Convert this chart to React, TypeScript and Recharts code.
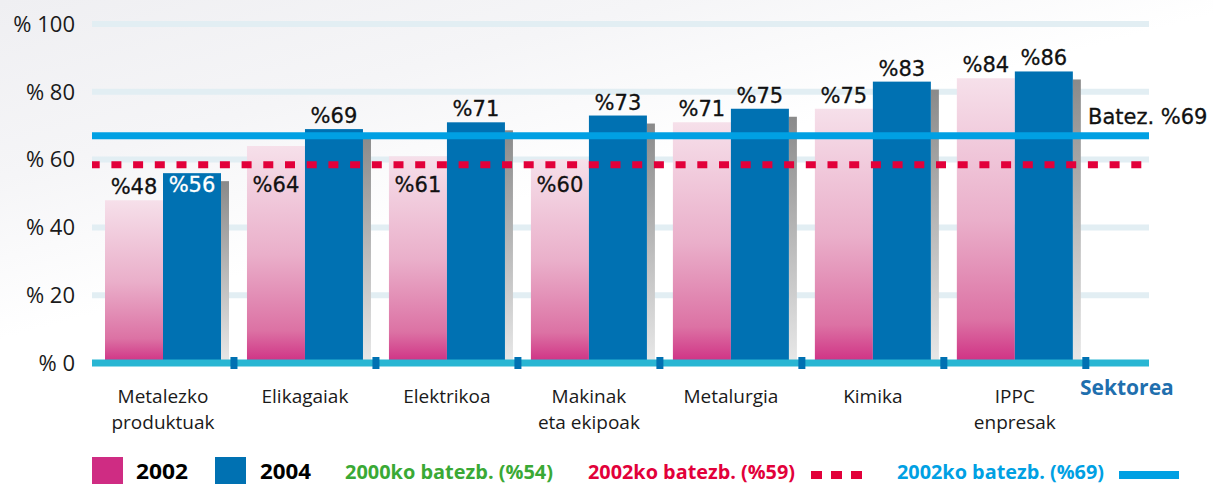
import {
  BarChart, Bar, XAxis, YAxis, CartesianGrid, ReferenceLine, LabelList, Label,
} from 'recharts'

// ─── Data ─────────────────────────────────────────────────────────────────────

const CATEGORIES = [
  ['Metalezko', 'produktuak'],
  ['Elikagaiak'],
  ['Elektrikoa'],
  ['Makinak', 'eta ekipoak'],
  ['Metalurgia'],
  ['Kimika'],
  ['IPPC', 'enpresak'],
]
const SERIES_2002 = [48, 64, 61, 60, 71, 75, 84]
const SERIES_2004 = [56, 69, 71, 73, 75, 83, 86]
const Y_TICKS = [0, 20, 40, 60, 80, 100]

// average lines, as drawn
const AVG_2002 = 58.5
const AVG_2004 = 67
const AVG_LABEL = 'Batez. %69'
const AXIS_TITLE = 'Sektorea'

const LEGEND_SERIES = ['2002', '2004']
const LEGEND_NOTES = ['2000ko batezb. (%54)', '2002ko batezb. (%59)', '2002ko batezb. (%69)']

// ─── Colours ──────────────────────────────────────────────────────────────────

const MAGENTA = '#cf2c83'
const BLUE = '#0071b2'
const LINE_BLUE = '#00a0e3'
const RED = '#e2003a'
const GREEN = '#3aa935'
const AXIS_CYAN = '#29b6d3'
const GRID = '#e2eef3'

const data = CATEGORIES.map((c, i) => ({
  pos: i + 0.5,
  v2002: SERIES_2002[i],
  v2004: SERIES_2004[i],
}))

// label ticks at category centres, small markers on category boundaries
const X_TICKS = CATEGORIES.flatMap((_, i) => [i + 0.5, i + 1])

// ─── Pieces ───────────────────────────────────────────────────────────────────

function CategoryTick({ x, y, payload }: any) {
  const v = payload.value as number
  if (Number.isInteger(v)) {
    return <rect x={x - 3.5} y={y - 6} width={7} height={12} fill={BLUE} />
  }
  const lines = CATEGORIES[Math.floor(v)]
  return (
    <g>
      {lines.map((l, i) => (
        <text
          key={i}
          x={x}
          y={y + 40 + i * 26}
          textAnchor="middle"
          fontFamily="'Open Sans', sans-serif"
          fontSize={19}
          fill="#1a1a1a"
        >
          {l}
        </text>
      ))}
    </g>
  )
}

function BlueBar(props: any) {
  const { x, y, width, height } = props
  return (
    <g>
      <rect x={x + width} y={y + 8} width={8} height={Math.max(height - 8, 0)} fill="url(#shadowGrad)" />
      <rect x={x} y={y} width={width} height={height} fill={BLUE} />
    </g>
  )
}

function makeValueLabel(onBlue: boolean) {
  return (props: any) => {
    const { x, y, width, height, value } = props
    if (!value) return null
    const base = y + height
    const px = height / value
    const lineY = (v: number) => base - v * px
    const top = y - 22
    const bottom = y - 4
    // would the label sit on one of the average lines?
    const hits = [AVG_2002, AVG_2004].some((v) => {
      const ly = lineY(v)
      return top < ly + 5 && bottom > ly - 5
    })
    const ty = hits ? lineY(AVG_2002) + 27 : y - 6
    const fill = hits && onBlue ? '#ffffff' : '#111111'
    return (
      <text
        x={x + width / 2}
        y={ty}
        textAnchor="middle"
        fontFamily="'DejaVu Sans', sans-serif"
        fontSize={21}
        fill={fill}
        stroke={fill}
        strokeWidth={0.3}
      >
        %{value}
      </text>
    )
  }
}

function AvgLabel({ viewBox }: any) {
  const { x, y, width } = viewBox
  return (
    <text
      x={x + width - 61}
      y={y - 12}
      fontFamily="'DejaVu Sans', sans-serif"
      fontSize={21}
      fill="#111"
      stroke="#111"
      strokeWidth={0.3}
    >
      {AVG_LABEL}
    </text>
  )
}

function AxisTitle({ viewBox }: any) {
  const { x, y, width } = viewBox
  return (
    <text
      x={x + width - 69}
      y={y + 32}
      fontFamily="'Open Sans', sans-serif"
      fontWeight={700}
      fontSize={21}
      fill="#1f6fae"
    >
      {AXIS_TITLE}
    </text>
  )
}

function LegendRow() {
  const font = "'Open Sans', sans-serif"
  return (
    <svg width={1213} height={484} style={{ position: 'absolute', left: 0, top: 0, pointerEvents: 'none' }}>
      <rect x={92} y={457} width={31} height={31} fill={MAGENTA} />
      <text x={136} y={479} fontFamily={font} fontWeight={700} fontSize={22} fill="#000" textLength={52} lengthAdjust="spacingAndGlyphs">
        {LEGEND_SERIES[0]}
      </text>
      <rect x={215} y={457} width={31} height={31} fill={BLUE} />
      <text x={260} y={479} fontFamily={font} fontWeight={700} fontSize={22} fill="#000" textLength={51} lengthAdjust="spacingAndGlyphs">
        {LEGEND_SERIES[1]}
      </text>
      <text x={345} y={479} fontFamily={font} fontWeight={700} fontSize={19} fill={GREEN} textLength={208} lengthAdjust="spacingAndGlyphs">
        {LEGEND_NOTES[0]}
      </text>
      <text x={588} y={479} fontFamily={font} fontWeight={700} fontSize={19} fill={RED} textLength={207} lengthAdjust="spacingAndGlyphs">
        {LEGEND_NOTES[1]}
      </text>
      {[0, 1, 2].map((i) => (
        <rect key={i} x={811 + i * 20} y={471} width={11} height={8} fill={RED} />
      ))}
      <text x={897} y={479} fontFamily={font} fontWeight={700} fontSize={19} fill={LINE_BLUE} textLength={207} lengthAdjust="spacingAndGlyphs">
        {LEGEND_NOTES[2]}
      </text>
      <rect x={1119} y={471} width={60} height={8} fill={LINE_BLUE} />
    </svg>
  )
}

// ─── Component ────────────────────────────────────────────────────────────────

export default function App() {
  return (
    <div
      style={{
        position: 'absolute',
        left: 0,
        top: 0,
        width: 1213,
        height: 484,
        overflow: 'hidden',
        background: 'linear-gradient(165deg, #efeff2 0%, #f5f5f7 22%, #ffffff 42%)',
      }}
    >
      <BarChart
        width={1213}
        height={484}
        data={data}
        margin={{ top: 24, right: 64, bottom: 0, left: 0 }}
        barGap={0}
      >
        <defs>
          <linearGradient id="pinkGrad" x1="0" y1="0" x2="0" y2="1">
            <stop offset="0%" stopColor="#f6e0ea" />
            <stop offset="50%" stopColor="#eaafca" />
            <stop offset="85%" stopColor="#dc72a4" />
            <stop offset="100%" stopColor="#cf2f83" />
          </linearGradient>
          <linearGradient id="shadowGrad" x1="0" y1="0" x2="0" y2="1">
            <stop offset="0%" stopColor="#8a8a8a" />
            <stop offset="100%" stopColor="#e8e8e8" />
          </linearGradient>
        </defs>
        <CartesianGrid horizontal vertical={false} stroke={GRID} strokeWidth={6} />
        <XAxis
          dataKey="pos"
          type="number"
          domain={[0, 7.445]}
          ticks={X_TICKS}
          interval={0}
          allowDecimals
          height={121}
          tickSize={0}
          tickMargin={0}
          tickLine={false}
          axisLine={{ stroke: AXIS_CYAN, strokeWidth: 7 }}
          tick={<CategoryTick />}
        >
          <Label content={<AxisTitle />} />
        </XAxis>
        <YAxis
          domain={[0, 100]}
          ticks={Y_TICKS}
          width={92}
          axisLine={false}
          tickLine={false}
          tickSize={0}
          tickMargin={17}
          tickFormatter={(v: number) => `% ${v}`}
          tick={{ fontFamily: "'Open Sans', sans-serif", fontSize: 22, fill: '#1a1a1a' }}
        />
        <Bar dataKey="v2002" barSize={58} fill="url(#pinkGrad)" isAnimationActive={false}>
          <LabelList dataKey="v2002" content={makeValueLabel(false)} />
        </Bar>
        <Bar dataKey="v2004" barSize={58} fill={BLUE} shape={<BlueBar />} isAnimationActive={false}>
          <LabelList dataKey="v2004" content={makeValueLabel(true)} />
        </Bar>
        <ReferenceLine y={AVG_2002} stroke={RED} strokeWidth={7} strokeDasharray="10 11.7" strokeDashoffset={2.3} />
        <ReferenceLine y={AVG_2004} stroke={LINE_BLUE} strokeWidth={7} label={<AvgLabel />} />
      </BarChart>
      <LegendRow />
    </div>
  )
}
